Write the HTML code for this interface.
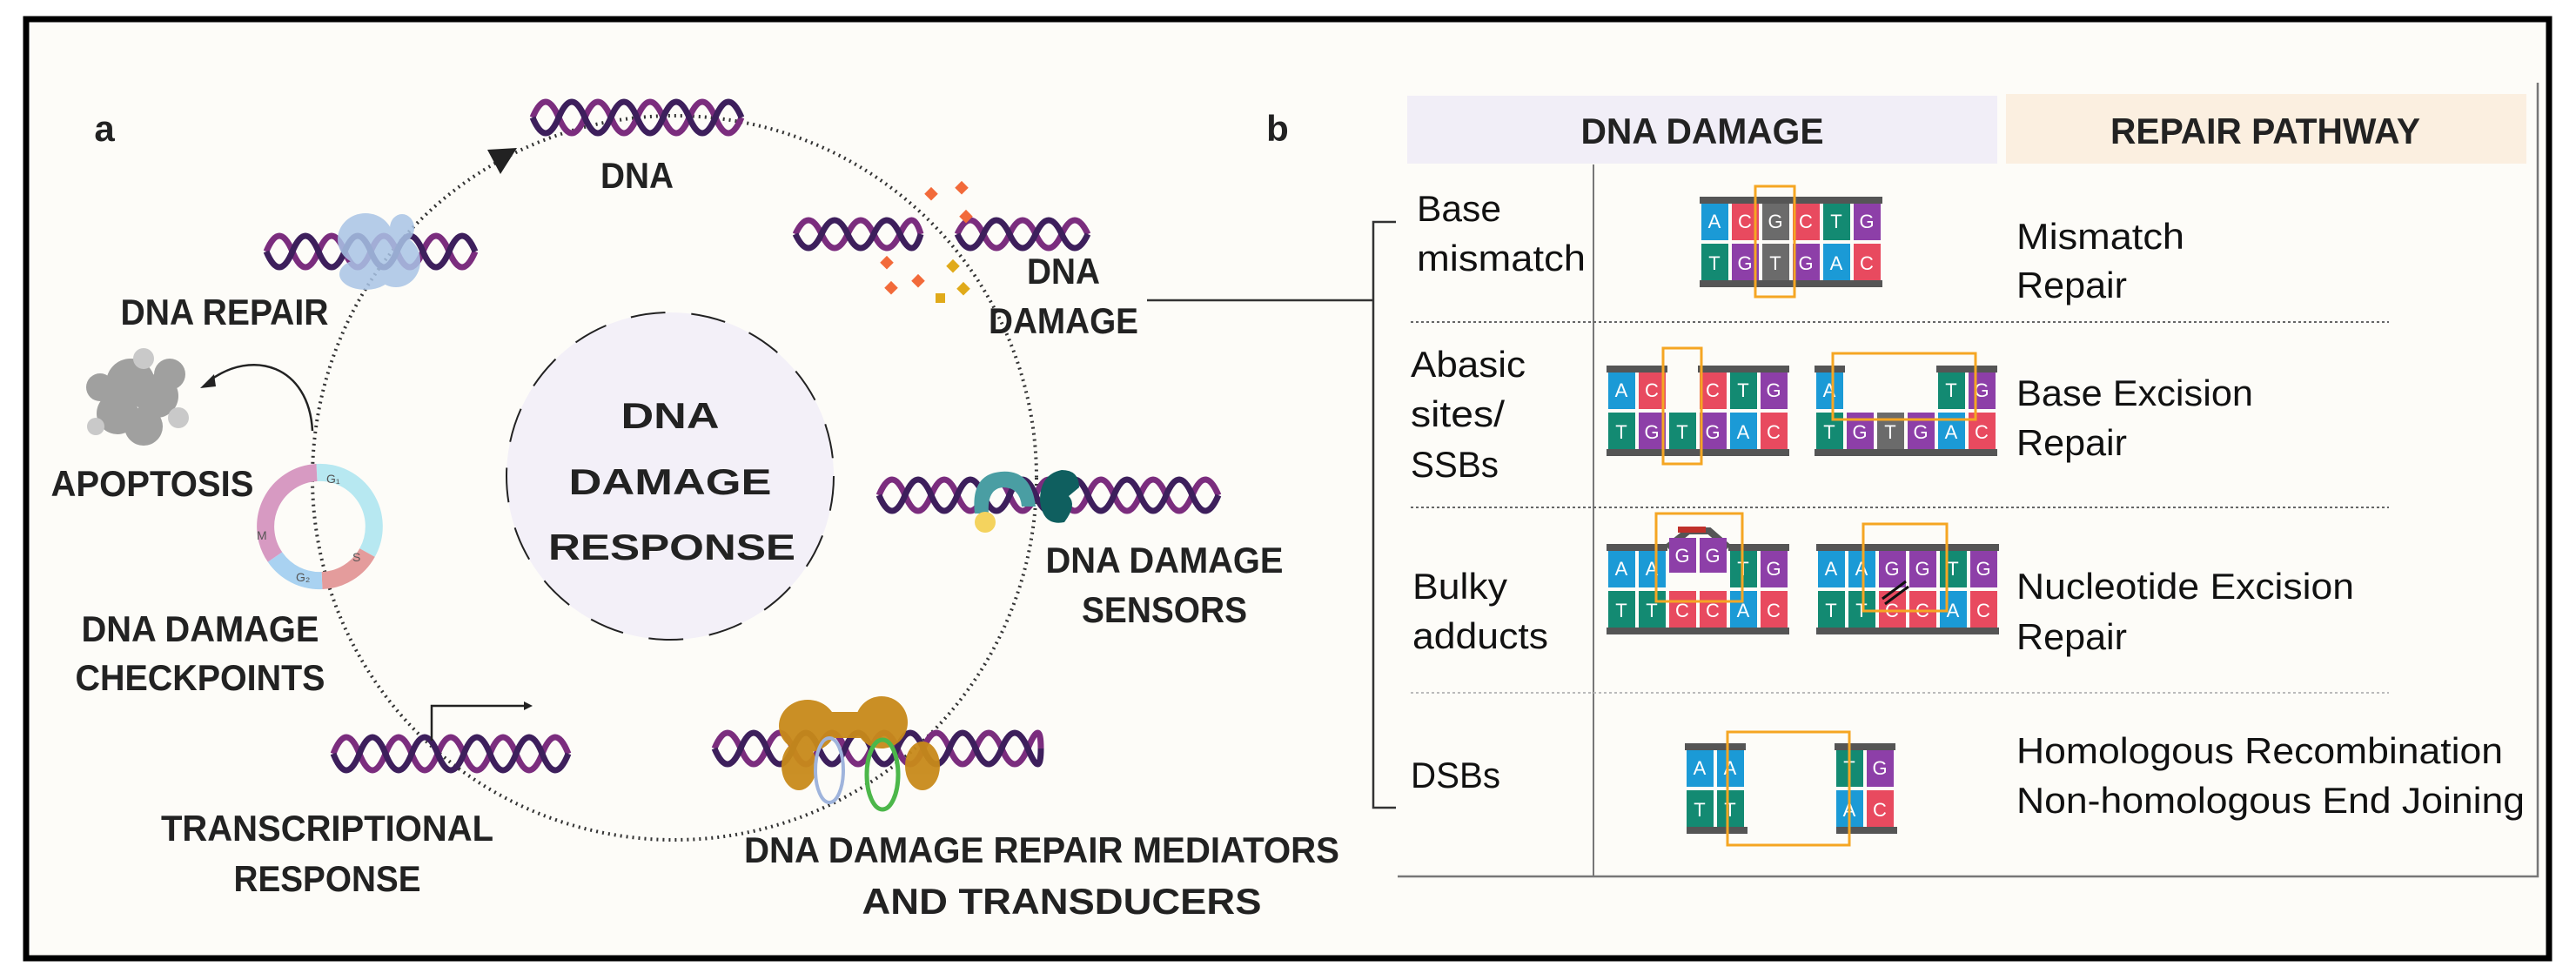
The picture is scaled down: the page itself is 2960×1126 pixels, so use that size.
<!DOCTYPE html>
<html><head><meta charset="utf-8"><style>
html,body{margin:0;padding:0;background:#fff}
svg{display:block}
text{font-family:"Liberation Sans",sans-serif}
.l{font-weight:bold;fill:#222;font-size:42px;text-anchor:middle}
.b{fill:#fff;font-size:22px;text-anchor:middle}
.r{fill:#111;font-size:42px}
</style></head><body>
<svg width="2960" height="1126" viewBox="0 0 2960 1126" xmlns="http://www.w3.org/2000/svg">
<rect x="0" y="0" width="2960" height="1126" fill="#fff"/>
<rect x="30" y="22" width="2899" height="1079" fill="#fdfcf8" stroke="#000" stroke-width="7"/>

<!-- big dotted cycle -->
<circle cx="775" cy="549" r="416" fill="none" stroke="#333" stroke-width="4" stroke-dasharray="2 5"/>
<polygon points="560,172 594,170 575,200" fill="#222"/>
<!-- inner circle -->
<circle cx="770" cy="547" r="188" fill="#f3f0f8" stroke="#222" stroke-width="2" stroke-dasharray="40 30"/>
<text class="l" x="770" y="492" font-size="60" textLength="113" lengthAdjust="spacingAndGlyphs">DNA</text>
<text class="l" x="770" y="568" font-size="60" textLength="233" lengthAdjust="spacingAndGlyphs">DAMAGE</text>
<text class="l" x="772" y="643" font-size="60" textLength="284" lengthAdjust="spacingAndGlyphs">RESPONSE</text>

<text class="l" x="120" y="162" font-size="50" text-anchor="middle">a</text>
<text class="l" x="1468" y="162" font-size="50">b</text>

<!-- helices -->
<g fill="none" stroke-width="7">
<path stroke="#7b2d7e" d="M612 135 q15 -36 30 0 t30 0 t30 0 t30 0 t30 0 t30 0 t30 0 t30 0"/>
<path stroke="#3d1f5c" d="M612 135 q15 36 30 0 t30 0 t30 0 t30 0 t30 0 t30 0 t30 0 t30 0"/>
<path stroke="#7b2d7e" d="M306 289 q15 -36 30 0 t30 0 t30 0 t30 0 t30 0 t30 0 t30 0 t30 0"/>
<path stroke="#3d1f5c" d="M306 289 q15 36 30 0 t30 0 t30 0 t30 0 t30 0 t30 0 t30 0 t30 0"/>
<path stroke="#7b2d7e" d="M914 269 q15 -32 30 0 t30 0 t30 0 t30 0 t24 0"/>
<path stroke="#3d1f5c" d="M914 269 q15 32 30 0 t30 0 t30 0 t30 0 t24 0"/>
<path stroke="#7b2d7e" d="M1100 269 q15 -32 30 0 t30 0 t30 0 t30 0 t30 0"/>
<path stroke="#3d1f5c" d="M1100 269 q15 32 30 0 t30 0 t30 0 t30 0 t30 0"/>
<path stroke="#7b2d7e" d="M1010 569 q15 -36 30 0 t30 0 t30 0 t30 0 t30 0 t30 0 t30 0 t30 0 t30 0 t30 0 t30 0 t30 0 t30 0"/>
<path stroke="#3d1f5c" d="M1010 569 q15 36 30 0 t30 0 t30 0 t30 0 t30 0 t30 0 t30 0 t30 0 t30 0 t30 0 t30 0 t30 0 t30 0"/>
<path stroke="#7b2d7e" d="M383 866 q15 -38 30 0 t30 0 t30 0 t30 0 t30 0 t30 0 t30 0 t30 0 t30 0"/>
<path stroke="#3d1f5c" d="M383 866 q15 38 30 0 t30 0 t30 0 t30 0 t30 0 t30 0 t30 0 t30 0 t30 0"/>
<path stroke="#7b2d7e" d="M821 860 q15 -36 30 0 t30 0 t30 0 t30 0 t30 0 t30 0 t30 0 t30 0 t30 0 t30 0 t30 0 t30 0 t15 0"/>
<path stroke="#3d1f5c" d="M821 860 q15 36 30 0 t30 0 t30 0 t30 0 t30 0 t30 0 t30 0 t30 0 t30 0 t30 0 t30 0 t30 0 t15 0"/>
</g>
<!-- repair blob -->
<g fill="#a9c4e6" opacity="0.85"><ellipse cx="420" cy="275" rx="32" ry="30"/><ellipse cx="455" cy="300" rx="28" ry="30"/><ellipse cx="420" cy="315" rx="30" ry="18"/><ellipse cx="462" cy="262" rx="14" ry="16"/></g>
<!-- damage diamonds -->
<g fill="#f26a3a"><rect x="1065" y="217" width="11" height="11" transform="rotate(45 1070 222)"/><rect x="1100" y="210" width="11" height="11" transform="rotate(45 1105 215)"/><rect x="1105" y="243" width="11" height="11" transform="rotate(45 1110 248)"/><rect x="1014" y="296" width="11" height="11" transform="rotate(45 1019 301)"/><rect x="1019" y="325" width="11" height="11" transform="rotate(45 1024 330)"/><rect x="1050" y="317" width="11" height="11" transform="rotate(45 1055 322)"/></g>
<g fill="#e0aa1a"><rect x="1090" y="300" width="11" height="11" transform="rotate(45 1095 305)"/><rect x="1075" y="337" width="11" height="11"/><rect x="1102" y="326" width="11" height="11" transform="rotate(45 1107 331)"/></g>
<!-- sensors -->
<path d="M1120 590 q-5 -45 30 -48 q35 -3 40 40 l-16 0 q-2 -22 -22 -22 q-18 2 -16 30 z" fill="#4a9ea3"/>
<circle cx="1132" cy="600" r="12" fill="#f4d35e"/>
<path d="M1195 575 q0 -30 25 -35 q20 0 20 20 l-12 10 q10 10 -5 30 q-25 5 -28 -25z" fill="#0f5f5f"/>
<!-- mediators -->
<g fill="#c88a1a" opacity="0.95"><ellipse cx="928" cy="834" rx="33" ry="30"/><ellipse cx="1013" cy="830" rx="30" ry="30"/><ellipse cx="918" cy="880" rx="20" ry="28"/><ellipse cx="1060" cy="880" rx="20" ry="28"/><rect x="940" y="818" width="60" height="30"/></g>
<ellipse cx="953" cy="885" rx="16" ry="37" fill="none" stroke="#9fb4dc" stroke-width="4"/>
<ellipse cx="1014" cy="890" rx="18" ry="40" fill="none" stroke="#4cb74a" stroke-width="5"/>
<!-- apoptosis -->
<g fill="#8a8a8a" opacity="0.8"><circle cx="150" cy="440" r="28"/><circle cx="180" cy="455" r="25"/><circle cx="135" cy="475" r="24"/><circle cx="165" cy="490" r="22"/><circle cx="195" cy="430" r="18"/><circle cx="115" cy="445" r="16"/></g>
<g fill="#c9c9c9"><circle cx="110" cy="490" r="10"/><circle cx="205" cy="480" r="12"/><circle cx="165" cy="412" r="12"/></g>
<path d="M359 495 C355 420 290 400 240 438" fill="none" stroke="#222" stroke-width="2.5"/>
<polygon points="230,446 246,430 248,444" fill="#222"/>
<!-- cell cycle -->
<g fill="none" stroke-width="20">
<path d="M364 543 A62 62 0 0 1 422 635" stroke="#b7e8f1"/>
<path d="M422 635 A62 62 0 0 1 370 667" stroke="#e49c9c"/>
<path d="M370 667 A62 62 0 0 1 316 640" stroke="#a9d2f1"/>
<path d="M316 640 A62 62 0 0 1 364 543" stroke="#d79ac2"/>
</g>
<g font-size="14" fill="#555"><text x="375" y="555">G₁</text><text x="405" y="645">S</text><text x="340" y="668">G₂</text><text x="295" y="620">M</text></g>
<!-- transcription arrow -->
<path d="M496 851 V811 H605" fill="none" stroke="#222" stroke-width="2.5"/>
<polygon points="612,811 602,806 602,816" fill="#222"/>

<!-- labels -->
<text class="l" x="732" y="216" textLength="84" lengthAdjust="spacingAndGlyphs">DNA</text>
<text class="l" x="258" y="373" textLength="239" lengthAdjust="spacingAndGlyphs">DNA REPAIR</text>
<text class="l" x="175" y="570" textLength="233" lengthAdjust="spacingAndGlyphs">APOPTOSIS</text>
<text class="l" x="230" y="737" textLength="273" lengthAdjust="spacingAndGlyphs">DNA DAMAGE</text>
<text class="l" x="230" y="793" textLength="287" lengthAdjust="spacingAndGlyphs">CHECKPOINTS</text>
<text class="l" x="376" y="966" textLength="382" lengthAdjust="spacingAndGlyphs">TRANSCRIPTIONAL</text>
<text class="l" x="376" y="1024" textLength="215" lengthAdjust="spacingAndGlyphs">RESPONSE</text>
<text class="l" x="1197" y="991" textLength="684" lengthAdjust="spacingAndGlyphs">DNA DAMAGE REPAIR MEDIATORS</text>
<text class="l" x="1220" y="1050" textLength="459" lengthAdjust="spacingAndGlyphs">AND TRANSDUCERS</text>
<text class="l" x="1338" y="658" textLength="273" lengthAdjust="spacingAndGlyphs">DNA DAMAGE</text>
<text class="l" x="1338" y="715" textLength="190" lengthAdjust="spacingAndGlyphs">SENSORS</text>
<text class="l" x="1222" y="326" textLength="84" lengthAdjust="spacingAndGlyphs">DNA</text>
<text class="l" x="1222" y="383" textLength="172" lengthAdjust="spacingAndGlyphs">DAMAGE</text>

<!-- connector + bracket -->
<path d="M1318 345 H1578" stroke="#333" stroke-width="2.5" fill="none"/>
<path d="M1604 255 H1578 V928 H1604" stroke="#333" stroke-width="2.5" fill="none"/>

<!-- table -->
<rect x="1617" y="110" width="678" height="78" fill="#f1eef7"/>
<rect x="2305" y="108" width="598" height="80" fill="#fbefe0"/>
<text class="l" x="1956" y="165" textLength="279" lengthAdjust="spacingAndGlyphs">DNA DAMAGE</text>
<text class="l" x="2603" y="165" textLength="356" lengthAdjust="spacingAndGlyphs">REPAIR PATHWAY</text>
<path d="M2916 95 V1007 H1606" stroke="#777" stroke-width="2.5" fill="none"/>
<path d="M1831 189 V1007" stroke="#777" stroke-width="2" fill="none"/>
<g stroke="#666" stroke-width="2" stroke-dasharray="3 3"><path d="M1621 370 H2745"/><path d="M1621 583 H2745"/><path d="M1621 796 H2745" stroke="#bbb"/></g>

<g class="r">
<text class="r" x="1628" y="254" textLength="97" lengthAdjust="spacingAndGlyphs">Base</text>
<text class="r" x="1628" y="311" textLength="194" lengthAdjust="spacingAndGlyphs">mismatch</text>
<text class="r" x="1621" y="433" textLength="132" lengthAdjust="spacingAndGlyphs">Abasic</text>
<text class="r" x="1621" y="490" textLength="108" lengthAdjust="spacingAndGlyphs">sites/</text>
<text class="r" x="1621" y="548" textLength="101" lengthAdjust="spacingAndGlyphs">SSBs</text>
<text class="r" x="1623" y="688" textLength="109" lengthAdjust="spacingAndGlyphs">Bulky</text>
<text class="r" x="1623" y="745" textLength="156" lengthAdjust="spacingAndGlyphs">adducts</text>
<text class="r" x="1621" y="905" textLength="103" lengthAdjust="spacingAndGlyphs">DSBs</text>
<text class="r" x="2317" y="286" textLength="193" lengthAdjust="spacingAndGlyphs">Mismatch</text>
<text class="r" x="2317" y="342" textLength="127" lengthAdjust="spacingAndGlyphs">Repair</text>
<text class="r" x="2317" y="466" textLength="272" lengthAdjust="spacingAndGlyphs">Base Excision</text>
<text class="r" x="2317" y="523" textLength="127" lengthAdjust="spacingAndGlyphs">Repair</text>
<text class="r" x="2317" y="688" textLength="388" lengthAdjust="spacingAndGlyphs">Nucleotide Excision</text>
<text class="r" x="2317" y="746" textLength="127" lengthAdjust="spacingAndGlyphs">Repair</text>
<text class="r" x="2317" y="877" textLength="559" lengthAdjust="spacingAndGlyphs">Homologous Recombination</text>
<text class="r" x="2317" y="934" textLength="584" lengthAdjust="spacingAndGlyphs">Non-homologous End Joining</text>
</g>

<!-- base blocks: mismatch x=1953 y=226 -->
<g>
<rect x="1953" y="226" width="210" height="8" fill="#555"/><rect x="1953" y="322" width="210" height="8" fill="#555"/>
<rect x="1955" y="234" width="31" height="42" fill="#1b9ad6"/><rect x="1990" y="234" width="31" height="42" fill="#e84a5f"/><rect x="2025" y="234" width="31" height="42" fill="#6b6b6b"/><rect x="2060" y="234" width="31" height="42" fill="#e84a5f"/><rect x="2095" y="234" width="31" height="42" fill="#138a72"/><rect x="2130" y="234" width="31" height="42" fill="#8d3fa8"/>
<rect x="1955" y="280" width="31" height="42" fill="#138a72"/><rect x="1990" y="280" width="31" height="42" fill="#8d3fa8"/><rect x="2025" y="280" width="31" height="42" fill="#6b6b6b"/><rect x="2060" y="280" width="31" height="42" fill="#8d3fa8"/><rect x="2095" y="280" width="31" height="42" fill="#1b9ad6"/><rect x="2130" y="280" width="31" height="42" fill="#e84a5f"/>
<text class="b" x="1970" y="262">A</text><text class="b" x="2005" y="262">C</text><text class="b" x="2040" y="262">G</text><text class="b" x="2075" y="262">C</text><text class="b" x="2110" y="262">T</text><text class="b" x="2145" y="262">G</text>
<text class="b" x="1970" y="310">T</text><text class="b" x="2005" y="310">G</text><text class="b" x="2040" y="310">T</text><text class="b" x="2075" y="310">G</text><text class="b" x="2110" y="310">A</text><text class="b" x="2145" y="310">C</text>
<rect x="2017" y="214" width="45" height="127" fill="none" stroke="#f5a623" stroke-width="3"/>
</g>
<!-- abasic left x=1846 y=420 -->
<g>
<rect x="1846" y="420" width="70" height="8" fill="#555"/><rect x="1951" y="420" width="105" height="8" fill="#555"/><rect x="1846" y="516" width="210" height="8" fill="#555"/>
<rect x="1848" y="428" width="31" height="42" fill="#1b9ad6"/><rect x="1883" y="428" width="31" height="42" fill="#e84a5f"/><rect x="1953" y="428" width="31" height="42" fill="#e84a5f"/><rect x="1988" y="428" width="31" height="42" fill="#138a72"/><rect x="2023" y="428" width="31" height="42" fill="#8d3fa8"/>
<rect x="1848" y="474" width="31" height="42" fill="#138a72"/><rect x="1883" y="474" width="31" height="42" fill="#8d3fa8"/><rect x="1918" y="474" width="31" height="42" fill="#138a72"/><rect x="1953" y="474" width="31" height="42" fill="#8d3fa8"/><rect x="1988" y="474" width="31" height="42" fill="#1b9ad6"/><rect x="2023" y="474" width="31" height="42" fill="#e84a5f"/>
<text class="b" x="1863" y="456">A</text><text class="b" x="1898" y="456">C</text><text class="b" x="1968" y="456">C</text><text class="b" x="2003" y="456">T</text><text class="b" x="2038" y="456">G</text>
<text class="b" x="1863" y="504">T</text><text class="b" x="1898" y="504">G</text><text class="b" x="1933" y="504">T</text><text class="b" x="1968" y="504">G</text><text class="b" x="2003" y="504">A</text><text class="b" x="2038" y="504">C</text>
<rect x="1911" y="400" width="44" height="133" fill="none" stroke="#f5a623" stroke-width="3"/>
</g>
<!-- abasic right x=2085 -->
<g>
<rect x="2085" y="420" width="35" height="8" fill="#555"/><rect x="2225" y="420" width="70" height="8" fill="#555"/><rect x="2085" y="516" width="210" height="8" fill="#555"/>
<rect x="2087" y="428" width="31" height="42" fill="#1b9ad6"/><rect x="2227" y="428" width="31" height="42" fill="#138a72"/><rect x="2262" y="428" width="31" height="42" fill="#8d3fa8"/>
<rect x="2087" y="474" width="31" height="42" fill="#138a72"/><rect x="2122" y="474" width="31" height="42" fill="#8d3fa8"/><rect x="2157" y="474" width="31" height="42" fill="#6b6b6b"/><rect x="2192" y="474" width="31" height="42" fill="#8d3fa8"/><rect x="2227" y="474" width="31" height="42" fill="#1b9ad6"/><rect x="2262" y="474" width="31" height="42" fill="#e84a5f"/>
<text class="b" x="2102" y="456">A</text><text class="b" x="2242" y="456">T</text><text class="b" x="2277" y="456">G</text>
<text class="b" x="2102" y="504">T</text><text class="b" x="2137" y="504">G</text><text class="b" x="2172" y="504">T</text><text class="b" x="2207" y="504">G</text><text class="b" x="2242" y="504">A</text><text class="b" x="2277" y="504">C</text>
<rect x="2106" y="406" width="164" height="76" fill="none" stroke="#f5a623" stroke-width="3"/>
</g>
<!-- bulky left x=1846 y=625 -->
<g>
<rect x="1846" y="625" width="70" height="8" fill="#555"/><rect x="1986" y="625" width="70" height="8" fill="#555"/><path d="M1916 629 L1940 610 H1964 L1986 629" fill="none" stroke="#555" stroke-width="8"/><rect x="1928" y="605" width="32" height="7" fill="#c0302a"/><rect x="1846" y="721" width="210" height="8" fill="#555"/>
<rect x="1848" y="633" width="31" height="42" fill="#1b9ad6"/><rect x="1883" y="633" width="31" height="42" fill="#1b9ad6"/><rect x="1918" y="618" width="31" height="40" fill="#8d3fa8"/><rect x="1953" y="618" width="31" height="40" fill="#8d3fa8"/><rect x="1988" y="633" width="31" height="42" fill="#138a72"/><rect x="2023" y="633" width="31" height="42" fill="#8d3fa8"/>
<rect x="1848" y="679" width="31" height="42" fill="#138a72"/><rect x="1883" y="679" width="31" height="42" fill="#138a72"/><rect x="1918" y="679" width="31" height="42" fill="#e84a5f"/><rect x="1953" y="679" width="31" height="42" fill="#e84a5f"/><rect x="1988" y="679" width="31" height="42" fill="#1b9ad6"/><rect x="2023" y="679" width="31" height="42" fill="#e84a5f"/>
<text class="b" x="1863" y="661">A</text><text class="b" x="1898" y="661">A</text><text class="b" x="1933" y="646">G</text><text class="b" x="1968" y="646">G</text><text class="b" x="2003" y="661">T</text><text class="b" x="2038" y="661">G</text>
<text class="b" x="1863" y="709">T</text><text class="b" x="1898" y="709">T</text><text class="b" x="1933" y="709">C</text><text class="b" x="1968" y="709">C</text><text class="b" x="2003" y="709">A</text><text class="b" x="2038" y="709">C</text>
<rect x="1903" y="590" width="99" height="101" fill="none" stroke="#f5a623" stroke-width="3"/>
</g>
<!-- bulky right x=2087 -->
<g>
<rect x="2087" y="625" width="210" height="8" fill="#555"/><rect x="2087" y="721" width="210" height="8" fill="#555"/>
<rect x="2089" y="633" width="31" height="42" fill="#1b9ad6"/><rect x="2124" y="633" width="31" height="42" fill="#1b9ad6"/><rect x="2159" y="633" width="31" height="42" fill="#8d3fa8"/><rect x="2194" y="633" width="31" height="42" fill="#8d3fa8"/><rect x="2229" y="633" width="31" height="42" fill="#138a72"/><rect x="2264" y="633" width="31" height="42" fill="#8d3fa8"/>
<rect x="2089" y="679" width="31" height="42" fill="#138a72"/><rect x="2124" y="679" width="31" height="42" fill="#138a72"/><rect x="2159" y="679" width="31" height="42" fill="#e84a5f"/><rect x="2194" y="679" width="31" height="42" fill="#e84a5f"/><rect x="2229" y="679" width="31" height="42" fill="#1b9ad6"/><rect x="2264" y="679" width="31" height="42" fill="#e84a5f"/>
<text class="b" x="2104" y="661">A</text><text class="b" x="2139" y="661">A</text><text class="b" x="2174" y="661">G</text><text class="b" x="2209" y="661">G</text><text class="b" x="2244" y="661">T</text><text class="b" x="2279" y="661">G</text>
<text class="b" x="2104" y="709">T</text><text class="b" x="2139" y="709">T</text><text class="b" x="2174" y="709">C</text><text class="b" x="2209" y="709">C</text><text class="b" x="2244" y="709">A</text><text class="b" x="2279" y="709">C</text>
<path d="M2163 688 L2190 668 M2166 694 L2193 674" stroke="#111" stroke-width="3"/>
<rect x="2141" y="602" width="96" height="100" fill="none" stroke="#f5a623" stroke-width="3"/>
</g>
<!-- DSBs -->
<g>
<rect x="1936" y="854" width="70" height="8" fill="#555"/><rect x="1938" y="950" width="70" height="8" fill="#555"/>
<rect x="2108" y="854" width="70" height="8" fill="#555"/><rect x="2110" y="950" width="70" height="8" fill="#555"/>
<rect x="1938" y="862" width="31" height="42" fill="#1b9ad6"/><rect x="1973" y="862" width="31" height="42" fill="#1b9ad6"/><rect x="1938" y="908" width="31" height="42" fill="#138a72"/><rect x="1973" y="908" width="31" height="42" fill="#138a72"/>
<rect x="2110" y="862" width="31" height="42" fill="#138a72"/><rect x="2145" y="862" width="31" height="42" fill="#8d3fa8"/><rect x="2110" y="908" width="31" height="42" fill="#1b9ad6"/><rect x="2145" y="908" width="31" height="42" fill="#e84a5f"/>
<text class="b" x="1953" y="890">A</text><text class="b" x="1988" y="890">A</text><text class="b" x="1953" y="938">T</text><text class="b" x="1988" y="938">T</text>
<text class="b" x="2125" y="890">T</text><text class="b" x="2160" y="890">G</text><text class="b" x="2125" y="938">A</text><text class="b" x="2160" y="938">C</text>
<rect x="1985" y="841" width="140" height="130" fill="none" stroke="#f5a623" stroke-width="3"/>
</g>
</svg>
</body></html>
